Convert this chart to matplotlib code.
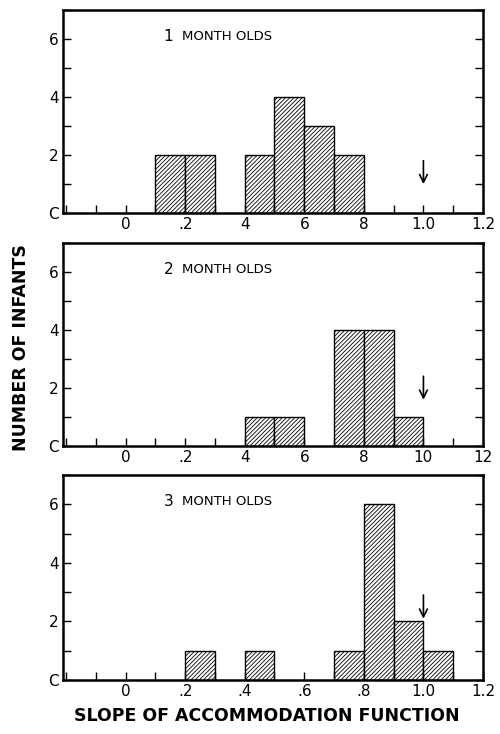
import numpy as np
import matplotlib
matplotlib.use("Agg")
import matplotlib.pyplot as plt
from matplotlib.ticker import MultipleLocator, FixedLocator

# Histogram data: left edge of each 0.1-wide bin and its count
bin_width = 0.1
groups = ["1", "2", "3"]
left_1 = [0.1, 0.2, 0.4, 0.5, 0.6, 0.7]
count_1 = [2, 2, 2, 4, 3, 2]
left_2 = [0.4, 0.5, 0.7, 0.8, 0.9]
count_2 = [1, 1, 4, 4, 1]
left_3 = [0.2, 0.4, 0.7, 0.8, 0.9, 1.0]
count_3 = [1, 1, 1, 6, 2, 1]

# arrow marking slope 1.0 (tail, head)
arrow_x = 1.0
arrow_1 = (1.9, 0.9)
arrow_2 = (2.5, 1.5)
arrow_3 = (3.0, 2.0)

xticks = [0, 0.2, 0.4, 0.6, 0.8, 1.0, 1.2]
xlabels_1 = ["0", ".2", "4", "6", "8", "1.0", "1.2"]
xlabels_2 = ["0", ".2", "4", "6", "8", "10", "12"]
xlabels_3 = ["0", ".2", ".4", ".6", ".8", "1.0", "1.2"]
yticks = [0, 2, 4, 6]
ylabels = ["C", "2", "4", "6"]

panels = [
    (left_1, count_1, arrow_1, xlabels_1),
    (left_2, count_2, arrow_2, xlabels_2),
    (left_3, count_3, arrow_3, xlabels_3),
]

plt.rcParams["font.family"] = ["DejaVu Sans"]
plt.rcParams["hatch.linewidth"] = 0.6

fig = plt.figure(figsize=(5.0, 7.34), dpi=100)
boxes = [
    [0.126, 0.7098, 0.84, 0.2766],
    [0.126, 0.3924, 0.84, 0.2766],
    [0.126, 0.0736, 0.84, 0.2790],
]

for box, grp, (lefts, counts, arr, xlabs) in zip(boxes, groups, panels):
    ax = fig.add_axes(box)
    ax.bar(lefts, counts, width=bin_width, align="edge", color="white",
           edgecolor="black", hatch="////////", linewidth=1.0)
    ax.set_xlim(-0.21, 1.2)
    ax.set_ylim(0, 7.0)

    ax.xaxis.set_major_locator(FixedLocator(xticks))
    ax.xaxis.set_minor_locator(MultipleLocator(0.1))
    ax.set_xticklabels(xlabs)
    ax.yaxis.set_major_locator(FixedLocator(yticks))
    ax.yaxis.set_minor_locator(MultipleLocator(1))
    ax.set_yticklabels(ylabels)
    ax.tick_params(which="both", direction="in", top=False, right=True,
                   width=1.0, labelsize=11, pad=3, length=6)
    for sp in ax.spines.values():
        sp.set_linewidth(1.8)

    ax.annotate("", xy=(arrow_x, arr[1]), xytext=(arrow_x, arr[0]),
                arrowprops=dict(arrowstyle="->", lw=1.2, color="black",
                                mutation_scale=14))

    ax.text(0.16, 6.1, grp, fontsize=11, ha="right", va="center")
    ax.text(0.19, 6.1, "MONTH OLDS", fontsize=9.5, ha="left", va="center")

fig.text(0.042, 0.527, "NUMBER OF INFANTS", rotation=90, fontsize=12.5,
         fontweight="bold", ha="center", va="center")
fig.text(0.533, 0.024, "SLOPE OF ACCOMMODATION FUNCTION", fontsize=12.5,
         fontweight="bold", ha="center", va="center")

fig.savefig("out.png", dpi=100)
